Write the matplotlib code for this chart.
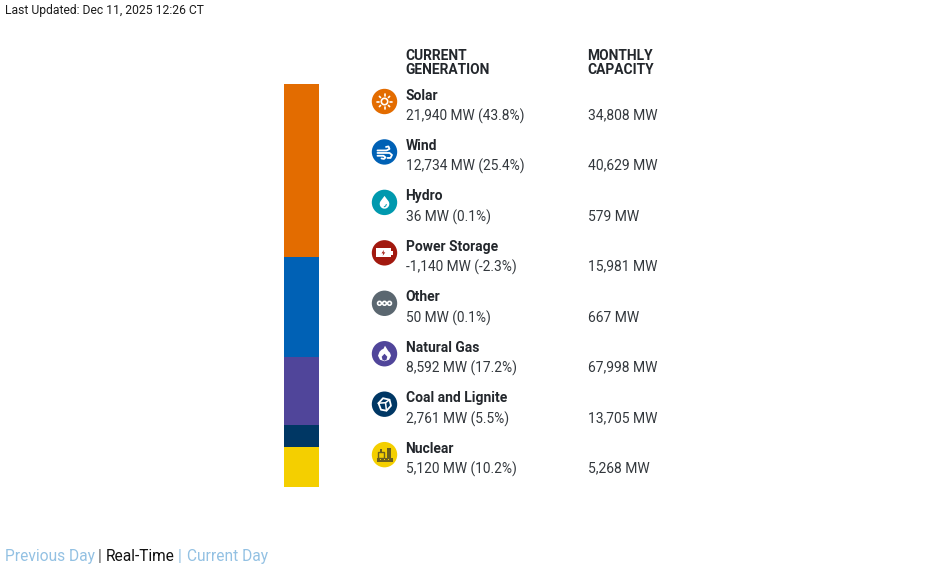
import numpy as np
import matplotlib
matplotlib.use('Agg')
import matplotlib.pyplot as plt
from matplotlib.patches import Circle, Rectangle, Polygon

plt.rcParams['font.family'] = ['Roboto', 'DejaVu Sans']

W = 936; H = 570

fuels = ['Solar', 'Wind', 'Hydro', 'Power Storage', 'Other', 'Natural Gas', 'Coal and Lignite', 'Nuclear']
gen_mw = [21940, 12734, 36, -1140, 50, 8592, 2761, 5120]
gen_pct = [43.8, 25.4, 0.1, -2.3, 0.1, 17.2, 5.5, 10.2]
capacity_mw = [34808, 40629, 579, 15981, 667, 67998, 13705, 5268]
colors = ['#E36C00', '#0061B5', '#0099AE', '#A2190F', '#5B6770', '#50459A', '#003764', '#F4CF00']

txt = '#23272c'
link = '#93c1e3'

fig = plt.figure(figsize=(W / 100, H / 100), dpi=100)

# background axes in pixel coordinates, for text and icons
bg = fig.add_axes([0, 0, 1, 1])
bg.set_xlim(0, W); bg.set_ylim(H, 0)
bg.axis('off')

# stacked bar, negative storage is not stacked
bar_top = 84; bar_bot = 487; bar_l = 284; bar_r = 319.5
ax = fig.add_axes([bar_l / W, 1 - bar_bot / H, (bar_r - bar_l) / W, (bar_bot - bar_top) / H])
bottom = 0
for g, c in zip(gen_mw, colors):
    if g <= 0:
        continue
    ax.bar(0, g, bottom=bottom, width=1, color=c, linewidth=0)
    bottom += g
ax.set_xlim(-0.5, 0.5)
ax.set_ylim(bottom, 0)
ax.axis('off')


def line(cx, cy, pts, col='white', lw=1.2):
    pts = np.array(pts, dtype=float)
    bg.plot(cx + pts[:, 0], cy + pts[:, 1], color=col, lw=lw, solid_capstyle='round', solid_joinstyle='round')


def draw_icon(i, cx, cy):
    bg.add_patch(Circle((cx, cy), 12.7, fc=colors[i], ec='none'))
    if i == 0:  # sun
        bg.add_patch(Circle((cx, cy), 3.2, fc='none', ec='white', lw=1.2))
        for a in np.arange(0, 360, 45):
            d = np.array([np.cos(np.radians(a)), np.sin(np.radians(a))])
            line(cx, cy, [d * 5.6, d * 7.2], lw=1.2)
    elif i == 1:  # wind
        line(cx, cy, [(-7, -1.5), (2, -1.5), (5, -3), (4, -5.5), (1.5, -5)], lw=1.3)
        line(cx, cy, [(-7, 1), (5, 1), (7.5, 3), (6, 6), (3, 6)], lw=1.3)
        line(cx, cy, [(-7, 3.8), (-1, 3.8), (1, 5.5), (-0.5, 7), (-3, 6.5)], lw=1.3)
    elif i == 2:  # drop
        t = np.linspace(-0.2 * np.pi, 1.2 * np.pi, 30)
        pts = [(4.8 * np.cos(a), 1.5 + 4.8 * np.sin(a)) for a in t] + [(0, -6.5)]
        bg.add_patch(Polygon(np.array(pts) + (cx, cy), fc='white', ec='none'))
        line(cx, cy, [(1.8, 2), (1.2, 3.6), (-0.3, 4.4)], col=colors[i], lw=0.7)
    elif i == 3:  # battery
        bg.add_patch(Rectangle((cx - 8.5, cy - 4.5), 15, 9, fc='white', ec='none'))
        bg.add_patch(Rectangle((cx + 6.5, cy - 1.8), 2, 3.6, fc='white', ec='none'))
        bg.add_patch(Polygon(np.array([(0.5, -3), (-2, 0.5), (-0.3, 0.5), (-0.8, 3), (1.8, -0.5), (0, -0.5)]) + (cx - 1, cy),
                             fc=colors[i], ec='none'))
    elif i == 4:  # dots
        for dx in (-5, 0, 5):
            bg.add_patch(Circle((cx + dx, cy), 1.9, fc='none', ec='white', lw=1.2))
    elif i == 5:  # flame
        pts = [(0.5, -8), (3, -4), (4, -2.5), (5.5, -1), (6.5, 2), (4.5, 6), (0, 7.5), (-4.5, 6), (-6.5, 2), (-5, -2),
               (-3, -4), (-1, -5)]
        bg.add_patch(Polygon(np.array(pts) + (cx, cy), fc='white', ec='none'))
        pts = [(0, 0), (2.8, 3), (2, 6), (0, 7), (-2, 6), (-2.8, 3)]
        bg.add_patch(Polygon(np.array(pts) + (cx, cy), fc=colors[i], ec='none'))
    elif i == 6:  # coal lump
        pts = [(-6, -1), (-1.5, -6), (5, -4.5), (6.5, 1.5), (2, 6.5), (-3.5, 5.5), (-6, -1)]
        line(cx, cy, pts, lw=1.3)
        line(cx, cy, [(-6, -1), (1, -1.5), (5, -4.5)], lw=1.1)
        line(cx, cy, [(1, -1.5), (2, 6.5)], lw=1.1)
    else:  # plant
        dark = '#6b5f20'
        bg.add_patch(Rectangle((cx - 8, cy + 3), 16, 4, fc=dark, ec='none'))
        bg.add_patch(Rectangle((cx - 7, cy - 2.5), 6, 5.5, fc='none', ec=dark, lw=1.0))
        bg.add_patch(Rectangle((cx + 2.5, cy - 7), 3.5, 10, fc=dark, ec='none'))
        bg.add_patch(Rectangle((cx - 4.5, cy - 6), 2, 3.5, fc=dark, ec='none'))
        for dx in (-5, -1, 3):
            bg.add_patch(Rectangle((cx + dx, cy + 4.3), 1.8, 1.4, fc=colors[i], ec='none'))


bg.text(4.6, 14, 'Last Updated: Dec 11, 2025 12:26 CT', fontsize=8.7, color='#1c1c1c', va='baseline')

head = dict(fontsize=9.9, fontweight='bold', color=txt, va='baseline')
bg.text(405.4, 60, 'CURRENT', **head)
bg.text(405.4, 73.5, 'GENERATION', **head)
bg.text(587.4, 60, 'MONTHLY', **head)
bg.text(587.4, 73.5, 'CAPACITY', **head)

row_h = 50.45
for i, name in enumerate(fuels):
    y = row_h * i
    draw_icon(i, 384.5, 101.5 + y)
    bg.text(405.6, round(99.5 + y), name, fontsize=10, fontweight='bold', color=txt, va='baseline')
    bg.text(405.6, round(120.0 + y) + 0.4, f'{gen_mw[i]:,} MW ({gen_pct[i]}%)', fontsize=9.9, color='#33383d', va='baseline')
    bg.text(587.6, round(120.0 + y) - 0.4, f'{capacity_mw[i]:,} MW', fontsize=10, color='#33383d', va='baseline')

foot = dict(fontsize=11.2, va='baseline')
bg.text(5, 561, 'Previous Day', color=link, **foot)
bg.text(98, 561, '|', color='#555555', **foot)
bg.text(106, 561, 'Real-Time', color='#111111', **foot)
bg.text(178, 561, '|', color=link, **foot)
bg.text(187, 561, 'Current Day', color=link, **foot)

fig.savefig('out.png', dpi=100, facecolor='white')
